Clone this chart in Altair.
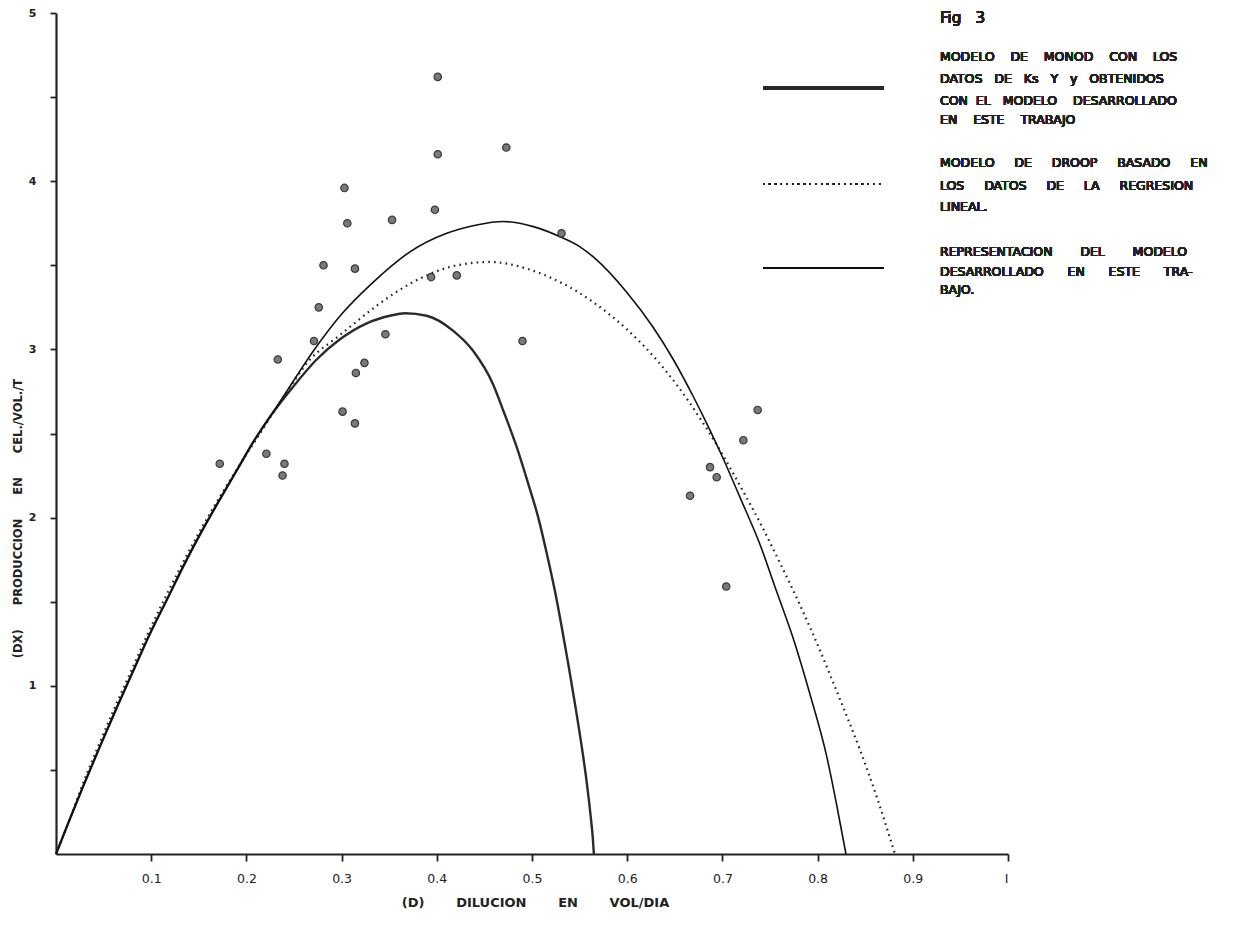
import altair as alt
import pandas as pd

# ---------------- data ----------------
pts_x = [0.172, 0.221, 0.240, 0.238, 0.233, 0.271, 0.276, 0.281, 0.303, 0.306,
         0.301, 0.314, 0.314, 0.315, 0.324, 0.346, 0.353, 0.398, 0.401, 0.394,
         0.421, 0.401, 0.473, 0.490, 0.531, 0.666, 0.687, 0.694, 0.704, 0.722, 0.737]
pts_y = [2.32, 2.38, 2.32, 2.25, 2.94, 3.05, 3.25, 3.50, 3.96, 3.75,
         2.63, 2.56, 3.48, 2.86, 2.92, 3.09, 3.77, 3.83, 4.16, 3.43,
         3.44, 4.62, 4.20, 3.05, 3.69, 2.13, 2.30, 2.24, 1.59, 2.46, 2.64]

# Monod model (line with small beads)
monod_x = [0, 0.0147, 0.0287, 0.0462, 0.0638, 0.0812, 0.0987, 0.1163, 0.1337, 0.1513,
           0.1723, 0.1898, 0.2073, 0.2248, 0.2493, 0.2738, 0.2983, 0.3264, 0.3508, 0.3666,
           0.3894, 0.4173, 0.4383, 0.4593, 0.4699, 0.4839, 0.4961, 0.5066, 0.5154, 0.5242,
           0.5312, 0.5381, 0.5452, 0.5522, 0.5574, 0.5617, 0.5638, 0.5650]
monod_y = [0, 0.21, 0.405, 0.64, 0.87, 1.09, 1.31, 1.51, 1.71, 1.90,
           2.11, 2.28, 2.45, 2.60, 2.78, 2.94, 3.06, 3.155, 3.20, 3.215,
           3.20, 3.11, 2.99, 2.79, 2.635, 2.42, 2.20, 2.00, 1.79, 1.56,
           1.35, 1.13, 0.89, 0.64, 0.43, 0.22, 0.10, 0]

# Droop model (dotted)
droop_x = [0, 0.0147, 0.0263, 0.0436, 0.0609, 0.0783, 0.0956, 0.1134, 0.1313, 0.1492,
           0.1707, 0.1891, 0.2143, 0.2405, 0.2668, 0.2948, 0.3123, 0.3369, 0.3613, 0.3894,
           0.4173, 0.4559, 0.4944, 0.5294, 0.5486, 0.5644, 0.5995, 0.6274, 0.6520, 0.6765,
           0.6975, 0.7185, 0.7395, 0.7605, 0.7815, 0.8025, 0.8235, 0.8445, 0.8621, 0.8813]
droop_y = [0, 0.21, 0.39, 0.63, 0.86, 1.08, 1.30, 1.51, 1.71, 1.90,
           2.11, 2.28, 2.50, 2.73, 2.94, 3.07, 3.15, 3.26, 3.355, 3.44,
           3.495, 3.52, 3.48, 3.40, 3.34, 3.28, 3.12, 2.96, 2.79, 2.59,
           2.40, 2.19, 1.97, 1.73, 1.48, 1.21, 0.92, 0.62, 0.34, 0]

# model developed in this work (solid)
model_x = [0, 0.0147, 0.0287, 0.0462, 0.0638, 0.0812, 0.0987, 0.1163, 0.1337, 0.1513,
           0.1723, 0.1898, 0.2073, 0.2143, 0.2423, 0.2703, 0.3001, 0.3333, 0.3718, 0.4104,
           0.4419, 0.4699, 0.5014, 0.5294, 0.5504, 0.5644, 0.5995, 0.6274, 0.6484, 0.6694,
           0.6835, 0.7009, 0.7185, 0.7395, 0.7570, 0.7745, 0.7920, 0.8096, 0.8201, 0.8298]
model_y = [0, 0.21, 0.405, 0.64, 0.87, 1.09, 1.31, 1.51, 1.71, 1.90,
           2.11, 2.28, 2.45, 2.51, 2.75, 2.99, 3.21, 3.40, 3.58, 3.69,
           3.74, 3.76, 3.73, 3.67, 3.61, 3.55, 3.34, 3.13, 2.94, 2.72,
           2.56, 2.35, 2.12, 1.84, 1.56, 1.28, 0.95, 0.58, 0.29, 0]

x_ticks = [0.1, 0.2, 0.3, 0.4, 0.5, 0.6, 0.7, 0.8, 0.9, 1.0]
y_ticks = [0.5, 1, 1.5, 2, 2.5, 3, 3.5, 4, 4.5, 5]

NB = "\u00a0"


def spaced(words, gap):
    return (" " + NB * (gap - 1)).join(words)


x_title = spaced(["(D)", "DILUCION", "EN", "VOL/DIA"], 7)
y_title = spaced(["(DX)", "PRODUCCION", "EN", "CEL./VOL./T"], 6)

fig_label = spaced(["Fig", "3"], 3)
legend_blocks = [
    [spaced(["MODELO", "DE", "MONOD", "CON", "LOS"], 4),
     spaced(["DATOS", "DE", "Ks", "Y", "y", "OBTENIDOS"], 3),
     spaced(["CON", "EL"], 2) + " " + NB * 2 + spaced(["MODELO", "DESARROLLADO"], 4),
     spaced(["EN", "ESTE", "TRABAJO"], 4)],
    [spaced(["MODELO", "DE", "DROOP", "BASADO", "EN"], 5),
     spaced(["LOS", "DATOS", "DE", "LA", "REGRESION"], 5),
     "LINEAL."],
    [spaced(["REPRESENTACION", "DEL", "MODELO"], 7),
     spaced(["DESARROLLADO", "EN", "ESTE", "TRA-"], 6),
     "BAJO."],
]

# ---------------- tables ----------------
pts = pd.DataFrame({"x": pts_x, "y": pts_y})
monod = pd.DataFrame({"x": monod_x, "y": monod_y, "i": range(len(monod_x))})
droop = pd.DataFrame({"x": droop_x, "y": droop_y, "i": range(len(droop_x))})
model = pd.DataFrame({"x": model_x, "y": model_y, "i": range(len(model_x))})

FONT = "DejaVu Sans"
W, H = 952, 841

xs = alt.Scale(domain=[0, 1], nice=False, zero=False)
ys = alt.Scale(domain=[0, 5], nice=False, zero=False)

x_axis = alt.Axis(values=x_ticks, labelExpr="datum.value == 1 ? 'I' : format(datum.value, '.1f')",
                  title=x_title, grid=False,
                  domainColor="#222", domainWidth=2.2, tickColor="#222", tickWidth=1.8, tickSize=7,
                  labelFont=FONT, labelFontSize=12.5, labelColor="#222", labelPadding=11,
                  titleFont=FONT, titleFontSize=13, titleFontWeight="bold", titleColor="#222",
                  titleBaseline="middle", titleY=48, titleX=479)
y_axis = alt.Axis(values=y_ticks, labelExpr="datum.value % 1 == 0 ? format(datum.value, 'd') : ''",
                  title=y_title, grid=False,
                  domainColor="#222", domainWidth=2.2, tickColor="#222", tickWidth=1.8, tickSize=6,
                  labelFont=FONT, labelFontSize=11, labelFontWeight="bold", labelColor="#222",
                  labelPadding=14,
                  titleFont=FONT, titleFontSize=11.5, titleFontWeight="bold", titleColor="#222",
                  titleBaseline="middle", titleX=-38, titleY=505, titleAngle=-90)

base_x = alt.X("x:Q", scale=xs, axis=x_axis)
base_y = alt.Y("y:Q", scale=ys, axis=y_axis)

monod_line = alt.Chart(monod).mark_line(color="#2a2a2a", strokeWidth=2.4,
                                        interpolate="monotone").encode(
    x=base_x, y=base_y, order="i:Q")
droop_line = alt.Chart(droop).mark_line(color="#222", strokeWidth=2.2, strokeDash=[1.6, 4.2],
                                        interpolate="monotone").encode(
    x=alt.X("x:Q", scale=xs), y=alt.Y("y:Q", scale=ys), order="i:Q")
model_line = alt.Chart(model).mark_line(color="#111", strokeWidth=1.6,
                                        interpolate="monotone").encode(
    x=alt.X("x:Q", scale=xs), y=alt.Y("y:Q", scale=ys), order="i:Q")
points = alt.Chart(pts).mark_point(filled=True, size=55, color="#7a7a7a",
                                   stroke="#3a3a3a", strokeWidth=1.2, opacity=1).encode(
    x=alt.X("x:Q", scale=xs), y=alt.Y("y:Q", scale=ys))

# ---------------- legend (drawn as annotations) ----------------
leg_x0, leg_x1 = 707, 828
key_monod = alt.Chart(pts).mark_rule(color="#2a2a2a", strokeWidth=2.4).encode(
    x=alt.value(leg_x0), x2=alt.value(leg_x1), y=alt.value(75))
key_droop = alt.Chart(pts).mark_rule(color="#222", strokeWidth=2.2, strokeDash=[1.6, 4.2]).encode(
    x=alt.value(leg_x0), x2=alt.value(leg_x1), y=alt.value(171))
key_model = alt.Chart(pts).mark_rule(color="#111", strokeWidth=1.6).encode(
    x=alt.value(leg_x0), x2=alt.value(leg_x1), y=alt.value(255))

tx = 884
text_layers = [alt.Chart(pts).mark_text(align="left", baseline="middle", font=FONT, fontSize=15,
                                        color="#222").encode(
    x=alt.value(tx), y=alt.value(5), text=alt.value(fig_label))]
block_y = [[44, 66, 88, 107], [150, 173, 194], [239, 259, 277]]
for lines, ys_ in zip(legend_blocks, block_y):
    for line, yy in zip(lines, ys_):
        text_layers.append(
            alt.Chart(pts).mark_text(align="left", baseline="middle", font=FONT, fontSize=12.5,
                                     color="#222").encode(
                x=alt.value(tx), y=alt.value(yy), text=alt.value(line)))

chart = alt.layer(monod_line, droop_line, model_line, points,
                  key_monod, key_droop, key_model, *text_layers).properties(
    width=W, height=H,
    autosize=alt.AutoSizeParams(type="none"),
    padding={"left": 48, "top": 5, "right": 218, "bottom": 55},
    background="white",
).configure_view(stroke=None)

chart.save("out.html", embed_options={"renderer": "svg", "actions": False})
